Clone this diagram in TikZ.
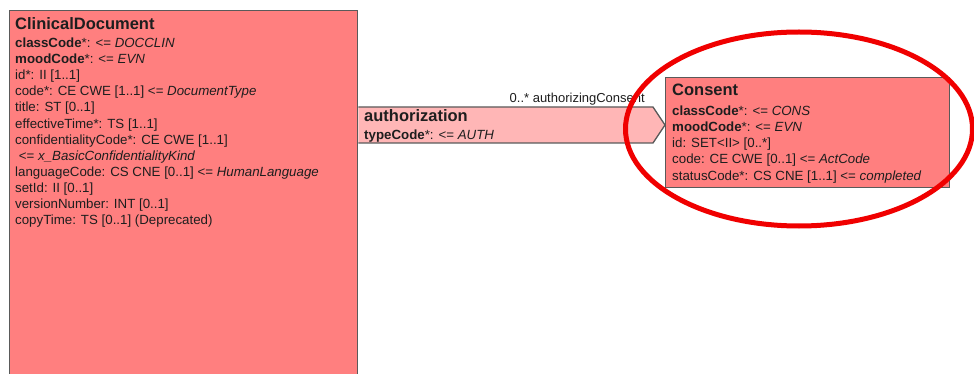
\documentclass[tikz,border=0pt]{standalone}
\usepackage{fontspec}
\setmainfont{Liberation Sans}
\usetikzlibrary{shapes.geometric}
\definecolor{boxfill}{HTML}{FF7F7F}
\definecolor{authfill}{HTML}{FFB6B6}
\definecolor{boxline}{HTML}{5A5A5A}
\definecolor{txt}{HTML}{1E1E1E}
\definecolor{hlred}{HTML}{F00000}
\begin{document}
\begin{tikzpicture}[x=1pt,y=-1pt,
  box/.style={draw=boxline, line width=1.3pt, fill=boxfill, inner sep=0pt, anchor=north west},
  ttl/.style={anchor=base west, inner sep=0pt, font=\fontsize{16.5}{18}\selectfont\bfseries, text=txt},
  attr/.style={anchor=base west, inner sep=0pt, font=\fontsize{13.3}{16}\selectfont, text=txt},
  rolelbl/.style={anchor=base east, inner sep=0pt, font=\fontsize{13}{16}\selectfont, text=txt},
  hl/.style={ellipse, draw=hlred, line width=5pt, inner sep=0pt}
]
\useasboundingbox (0,0) rectangle (974,374);
\clip (0,0) rectangle (974,374);
\fill[white] (0,0) rectangle (974,374);

% ClinicalDocument
\node[box, minimum width=348pt, minimum height=420pt] (cd) at (9,10) {};
\node[ttl] (cdt) at (15,29.3) {ClinicalDocument};
\foreach \t [count=\i] in {
  {\textbf{classCode}*: <= \textit{DOCCLIN}},
  {\textbf{moodCode}*: <= \textit{EVN}},
  {id*: II [1..1]},
  {code*: CE CWE [1..1] <= \textit{DocumentType}},
  {title: ST [0..1]},
  {effectiveTime*: TS [1..1]},
  {confidentialityCode*: CE CWE [1..1]},
  {\ <= \textit{x\_BasicConfidentialityKind}},
  {languageCode: CS CNE [0..1] <= \textit{HumanLanguage}},
  {setId: II [0..1]},
  {versionNumber: INT [0..1]},
  {copyTime: TS [0..1] (Deprecated)}}
  { \node[attr] (cda\i) at (15,{47.6+(\i-1)*16.1}) {\t}; }

% Consent
\node[box, minimum width=284pt, minimum height=110pt] (cons) at (665,77) {};
\node[ttl] (const) at (672,96) {Consent};
\foreach \t [count=\i] in {
  {\textbf{classCode}*: <= \textit{CONS}},
  {\textbf{moodCode}*: <= \textit{EVN}},
  {id: SET<II> [0..*]},
  {code: CE CWE [0..1] <= \textit{ActCode}},
  {statusCode*: CS CNE [1..1] <= \textit{completed}}}
  { \node[attr] (consa\i) at (672,{115.7+(\i-1)*16.1}) {\t}; }

% authorization arrow
\coordinate (a1) at (cd.east |- 0,107);
\coordinate (a2) at (653,107);
\coordinate (a3) at (cons.west |- 0,125);
\coordinate (a4) at (653,143);
\coordinate (a5) at (cd.east |- 0,143);
\fill[authfill] (a1) -- (a2) -- (a3) -- (a4) -- (a5) -- cycle;
\draw[boxline, line width=1.3pt, line join=miter] (a1) -- (a2) -- (a3) -- (a4) -- (a5);
\node[ttl] (auth) at (364,121.7) {authorization};
\node[attr] (autha) at (364,140) {\textbf{typeCode}*: <= \textit{AUTH}};
\node[rolelbl] (role) at (645,102.7) {0..* authorizingConsent};

% highlight
\node[hl, minimum width=347pt, minimum height=194pt] (ring) at (799,129) {};
\end{tikzpicture}
\end{document}
